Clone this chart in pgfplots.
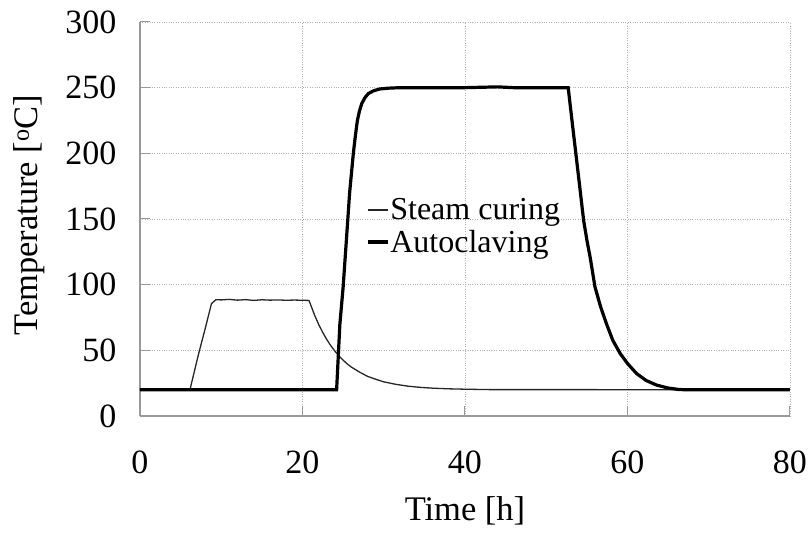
\documentclass[border=0pt]{standalone}
\usepackage{fontspec}
\setmainfont{Liberation Serif}
\usepackage{pgfplots}
\pgfplotsset{compat=1.18}
\begin{document}
\begin{tikzpicture}[font=\fontsize{34.5bp}{40bp}\selectfont]
\begin{axis}[
  scale only axis, width=650bp, height=394bp,
  xmin=0, xmax=80, ymin=0, ymax=300,
  xtick={0,20,40,60,80}, ytick={0,50,100,150,200,250,300},
  axis x line=bottom, axis y line=left,
  axis line style={-, draw=gray!80, line width=1.2bp},
  tick align=inside, major tick length=10bp,
  tick style={gray!80, line width=1bp},
  grid=major,
  major grid style={dotted, gray!60, line width=0.8bp},
  /pgf/number format/assume math mode=true,
  ticklabel style={font=\fontsize{34bp}{40bp}\selectfont},
  xticklabel style={yshift=-31bp},
  yticklabel style={xshift=-20bp},
  xlabel={Time [h]}, ylabel={Temperature [\textsuperscript{o}C]},
  xlabel style={at={(axis description cs:0.5,-0.24)}, anchor=center},
  ylabel style={at={(axis description cs:-0.17,0.51)}, anchor=center, rotate=0},
  legend style={at={(axis description cs:0.343,0.56)}, anchor=north west, draw=none, fill=none,
    font=\fontsize{32bp}{38bp}\selectfont,
    nodes={inner sep=1bp}, row sep=7bp},
  legend cell align=left,
  legend image code/.code={\draw[#1] (0bp,0bp) -- (20bp,0bp);},
  clip=true,
]
\coordinate (sw) at (rel axis cs:0,0);
\addplot[draw=black!85, line width=1.3bp] coordinates {
(0,20) (6.15,20) (7.2,47) (8.0,66) (8.8,85.6) (9.35,88.6) (10,88.4) (11,88.8) (12,88.2) (13,88.6) (14,88.0) (15,88.5) (16,88.2) (17,88.4) (18,88.1) (19,88.3) (20,88.1) (20.8,88)
(21.5,76.6) (22,69.6) (22.5,63.5) (23,58.1) (23.5,53.4) (24,49.3) (24.5,45.7) (25,42.5) (25.5,39.7) (26,37.3) (27,33.5) (28,30.2) (29,28) (30,26) (31.5,24.1) (33,22.7) (34.5,21.8) (36,21.2) (38,20.7) (40,20.4) (43,20.1) (80,20)
};
\addlegendentry{Steam curing}
\addplot[draw=black, line width=3.2bp] coordinates {
(0,20) (24.2,20) (24.4,45) (24.6,70) (25.0,98) (25.4,133.7) (25.8,170) (26.25,199.5) (26.5,213) (26.75,224.8) (27.0,232) (27.3,238) (27.7,242.5) (28.1,245.5) (28.7,247.5) (29.5,249) (30.5,249.6) (32,250) (40,250) (42,250.3) (44,250.6) (46,250) (50,250) (52.7,250)
(53.3,218) (54.0,181) (54.6,149) (55.0,134) (55.4,121) (56.0,98.2) (56.7,83) (57.4,70.4) (58.2,57.5) (59.1,47.6) (60,40) (61.1,32.4) (62.3,27) (63.6,23.5) (65,21.3) (66.3,20.2) (67,20) (80,20)
};
\addlegendentry{Autoclaving}
\end{axis}
\pgfresetboundingbox
\path (sw) ++(-140bp,-121bp) rectangle ++(810bp,537bp);
\end{tikzpicture}
\end{document}
